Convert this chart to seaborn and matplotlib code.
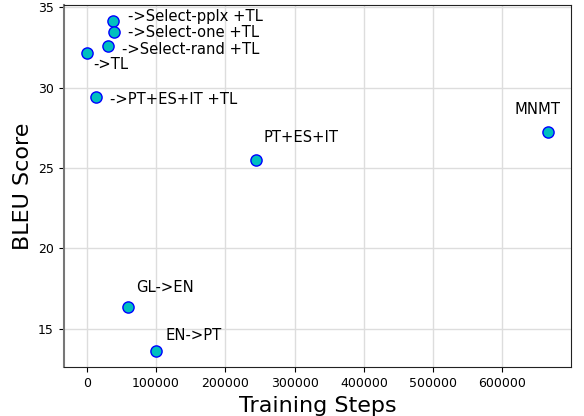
import numpy as np
import pandas as pd
import matplotlib
matplotlib.use("Agg")
import matplotlib.pyplot as plt
import seaborn as sns

# ---------------- DATA ----------------
labels = [
    "->Select-pplx +TL", "->Select-one +TL", "->Select-rand +TL", "->TL",
    "->PT+ES+IT +TL", "PT+ES+IT", "MNMT", "GL->EN", "EN->PT",
]
steps = np.array([38400, 39400, 30300, 0, 13000, 245000, 666000, 60000, 100000])
bleu = np.array([34.11, 33.45, 32.57, 32.14, 29.40, 25.47, 27.23, 16.34, 13.61])

df = pd.DataFrame({"label": labels, "steps": steps, "bleu": bleu})

# label offsets in points (dx, dy)
offsets = [(10.5, 3.6), (10, 0), (10, -2.2), (5, -8), (10, -2),
           (5, 16.5), (-24.5, 16), (6, 14), (6.5, 11)]

# ---------------- PLOT ----------------
fig = plt.figure(figsize=(5.84, 4.16), dpi=100)
ax = fig.add_axes([0.109, 0.117, 0.869, 0.871])

sns.scatterplot(data=df, x="steps", y="bleu", color="c", edgecolor="blue",
                linewidth=1, s=65, ax=ax, zorder=3)

for lab, x, y, (dx, dy) in zip(labels, steps, bleu, offsets):
    ax.annotate(lab, (x, y), xytext=(dx, dy), textcoords="offset points",
                fontsize=10.6, va="center", ha="left")

ax.set_xticks([0, 100000, 200000, 300000, 400000, 500000, 600000])
ax.set_yticks([15, 20, 25, 30, 35])
ax.tick_params(labelsize=9)
ax.grid(color="#dddddd", linewidth=1)
ax.set_axisbelow(True)
ax.set_xlabel("Training Steps", fontsize=16)
ax.set_ylabel("BLEU Score", fontsize=16)

for side in ["top", "right", "bottom"]:
    ax.spines[side].set_color("#222222")
ax.spines["left"].set_color("#777777")
ax.spines["left"].set_linewidth(1.5)

fig.savefig("out.png", dpi=100)
